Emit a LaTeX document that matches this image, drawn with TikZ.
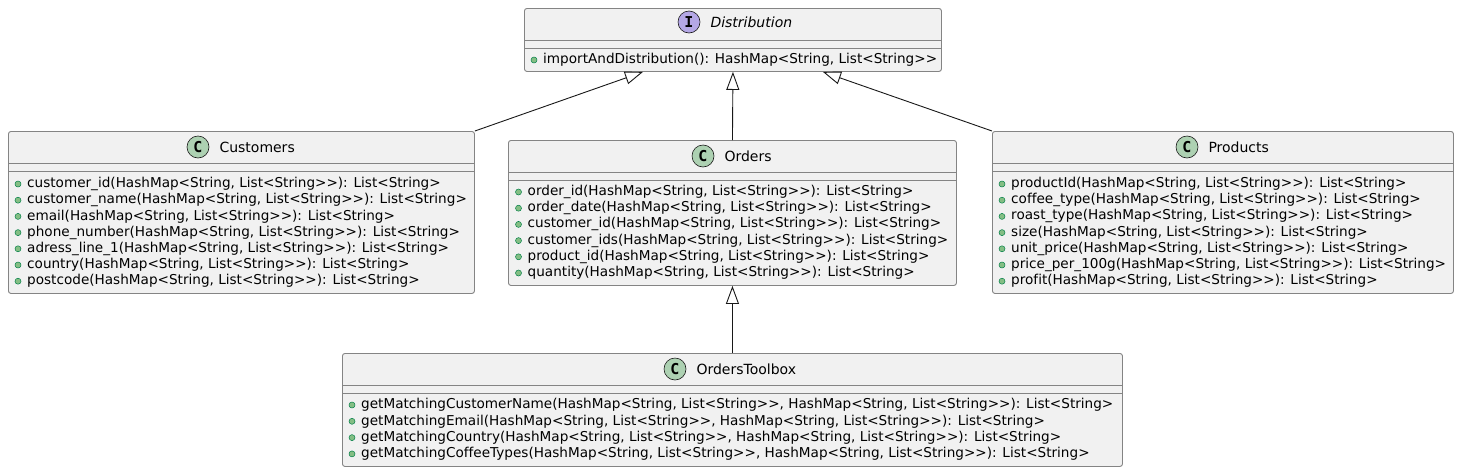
\documentclass[tikz,border=0pt]{standalone}
\usepackage{fontspec}
\setmainfont{DejaVu Sans}[Ligatures={TeXOff,NoCommon}]
\newfontfamily\iconfont{DejaVu Sans Mono}[Ligatures=TeXOff]
\usetikzlibrary{positioning,arrows.meta}

\definecolor{boxgray}{HTML}{F1F1F1}
\definecolor{boxline}{HTML}{848484}
\definecolor{lineblack}{HTML}{181818}
\definecolor{cgreen}{HTML}{ADD1B2}
\definecolor{ipurple}{HTML}{B4A7E5}
\definecolor{pubfill}{HTML}{84BE84}
\definecolor{pubedge}{HTML}{038048}

\newcommand{\hmap}{HashMap<String, List<String>>}
\newcommand{\lstr}{List<String>}

\begin{document}
\begin{tikzpicture}[x=1pt,y=-1pt,
  classbox/.style={draw=boxline, line width=0.9pt, fill=boxgray, rounded corners=2.5pt, inner sep=0pt, anchor=north west},
  sepline/.style={draw=boxline, line width=0.9pt},
  classicon/.style={circle, draw=lineblack, line width=0.6pt, fill=cgreen, minimum size=22pt, inner sep=0pt, font=\fontsize{15}{15}\selectfont\iconfont\bfseries},
  ifaceicon/.style={classicon, fill=ipurple},
  classname/.style={inner sep=0pt, font=\fontsize{14}{16}\selectfont},
  member/.style={inner sep=0pt, anchor=west, font=\fontsize{13.6}{16}\selectfont},
  pubdot/.style={draw=pubedge, fill=pubfill, line width=0.5pt},
  extends/.style={draw=lineblack, line width=0.9pt, -{Triangle[length=18pt, width=13pt, fill=white, line width=0.9pt]}}]
\fill[white] (0,0) rectangle (1459,472);
\useasboundingbox (0,0) rectangle (1459,472);

% class boxes
\node[classbox, minimum width=417pt, minimum height=63pt] (dist) at (524,8) {};
\node[classbox, minimum width=466pt, minimum height=162pt] (cust) at (8,131) {};
\node[classbox, minimum width=448pt, minimum height=145pt] (ord) at (508,140) {};
\node[classbox, minimum width=461pt, minimum height=162pt] (prod) at (992,131) {};
\node[classbox, minimum width=780pt, minimum height=113pt] (tool) at (342,353) {};

\foreach \b in {dist,cust,ord,prod,tool} {
  \draw[sepline] ([yshift=-32pt]\b.north west) -- ([yshift=-32pt]\b.north east);
  \draw[sepline] ([yshift=-40pt]\b.north west) -- ([yshift=-40pt]\b.north east);
}

% headers
\node[ifaceicon] (disticon) at (689,22) {I};
\node[classname, right=10pt of disticon] (disttitle) {\itshape Distribution};
\node[classicon] (custicon) at (198,147) {C};
\node[classname, right=10pt of custicon] (custtitle) {Customers};
\node[classicon] (ordicon) at (703,156) {C};
\node[classname, right=10pt of ordicon] (ordtitle) {Orders};
\node[classicon] (prodicon) at (1187,147) {C};
\node[classname, right=10pt of prodicon] (prodtitle) {Products};
\node[classicon] (toolicon) at (675,369) {C};
\node[classname, right=10pt of toolicon] (tooltitle) {OrdersToolbox};

% members
\node[member] (dist-0) at (543,60) {importAndDistribution(): \hmap};
\draw[pubdot] ([xshift=-9pt]dist-0.west) circle (3pt);

\foreach \m [count=\i from 0] in {customer\_id(\hmap): \lstr, customer\_name(\hmap): \lstr,
    email(\hmap): \lstr, phone\_number(\hmap): \lstr, adress\_line\_1(\hmap): \lstr,
    country(\hmap): \lstr, postcode(\hmap): \lstr} {
  \node[member] (cust-\i) at (27,{184+16.2*\i}) {\m};
  \draw[pubdot] ([xshift=-9pt]cust-\i.west) circle (3pt);
}

\foreach \m [count=\i from 0] in {order\_id(\hmap): \lstr, order\_date(\hmap): \lstr,
    customer\_id(\hmap): \lstr, customer\_ids(\hmap): \lstr, product\_id(\hmap): \lstr,
    quantity(\hmap): \lstr} {
  \node[member] (ord-\i) at (527.5,{192+16.2*\i}) {\m};
  \draw[pubdot] ([xshift=-9pt]ord-\i.west) circle (3pt);
}

\foreach \m [count=\i from 0] in {productId(\hmap): \lstr, coffee\_type(\hmap): \lstr,
    roast\_type(\hmap): \lstr, size(\hmap): \lstr, unit\_price(\hmap): \lstr,
    price\_per\_100g(\hmap): \lstr, profit(\hmap): \lstr} {
  \node[member] (prod-\i) at (1011,{184+16.2*\i}) {\m};
  \draw[pubdot] ([xshift=-9pt]prod-\i.west) circle (3pt);
}

\foreach \m [count=\i from 0] in {{getMatchingCustomerName(\hmap, \hmap): \lstr},
    {getMatchingEmail(\hmap, \hmap): \lstr}, {getMatchingCountry(\hmap, \hmap): \lstr},
    {getMatchingCoffeeTypes(\hmap, \hmap): \lstr}} {
  \node[member] (tool-\i) at (361,{405+16.3*\i}) {\m};
  \draw[pubdot] ([xshift=-9pt]tool-\i.west) circle (3pt);
}

% generalisations
\draw[extends] (cust.north east) -- ([xshift=-90pt]dist.south);
\draw[extends] (ord.north) -- (dist.south);
\draw[extends] (prod.north west) -- ([xshift=90pt]dist.south);
\draw[extends] (tool.north) -- (ord.south);
\end{tikzpicture}
\end{document}
